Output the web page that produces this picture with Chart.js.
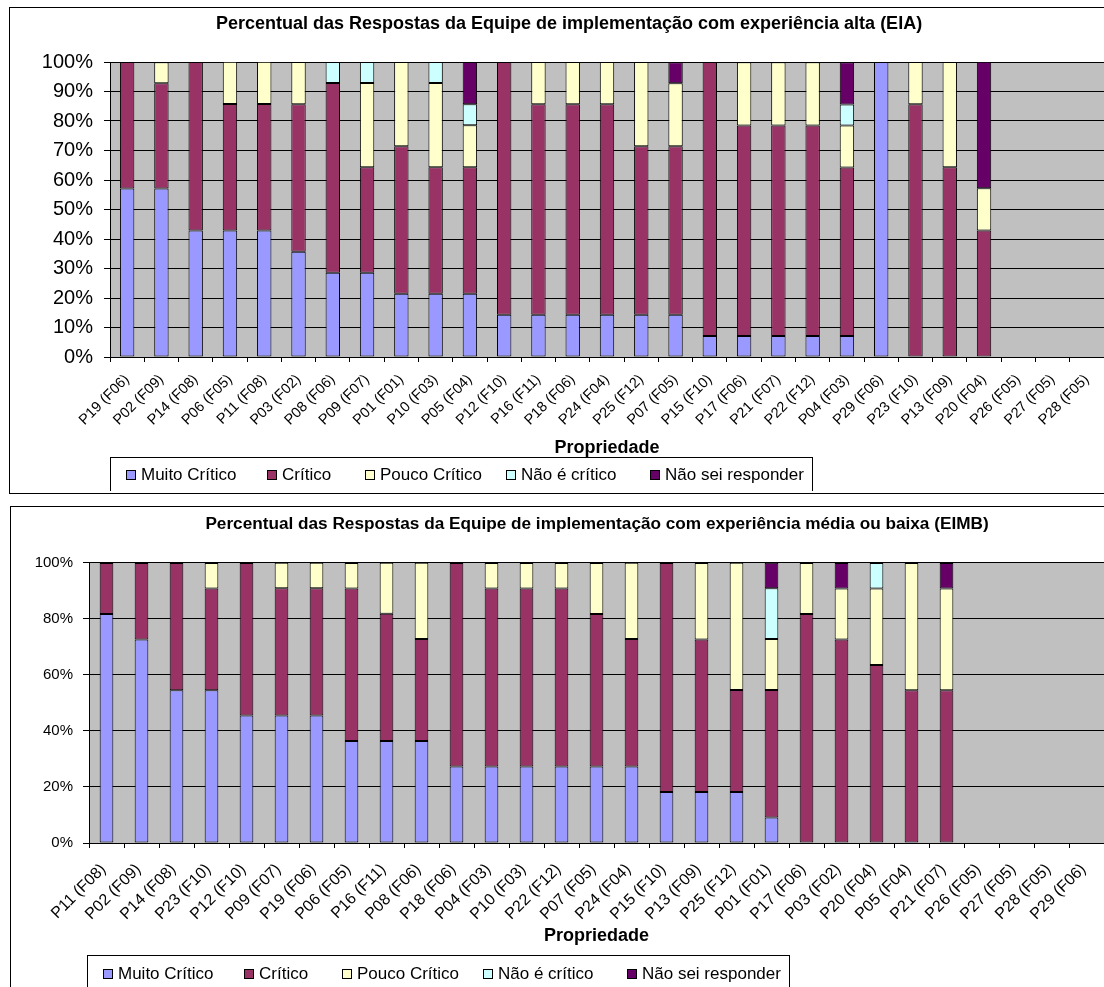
<!DOCTYPE html>
<html><head><meta charset="utf-8">
<script src="https://cdn.jsdelivr.net/npm/chart.js@4"></script>
<style>
html,body{margin:0;padding:0}
body{width:1104px;height:987px;overflow:hidden;background:#fff;position:relative;font-family:"Liberation Sans",Arial,sans-serif}
.box{position:absolute;border:1px solid #000;background:#fff;box-sizing:border-box;overflow:hidden}
#box1{left:9px;top:7px;width:1130px;height:487px}
#box2{left:10px;top:506px;width:1180px;height:500px}
canvas{position:absolute;left:0;top:0}
.legend{position:absolute;border:1px solid #000;border-bottom:none;box-sizing:border-box;color:#000;white-space:nowrap}
.legend .it{position:absolute;top:0;bottom:0;display:flex;align-items:center}
.legend .sw{display:inline-block;width:10px;height:10px;border:1px solid #000;box-sizing:border-box;margin-right:5px}
</style>
</head><body>
<div class="box" id="box1"><canvas id="c1" width="1118" height="485"></canvas><div class="legend" id="lg1"></div></div>
<div class="box" id="box2"><canvas id="c2" width="1172" height="480"></canvas><div class="legend" id="lg2"></div></div>
<script>
// ---------- Data ----------
const seriesNames = ['Muito Crítico', 'Crítico', 'Pouco Crítico', 'Não é crítico', 'Não sei responder'];
const seriesColors = ['#9999FF', '#993366', '#FFFFCC', '#CCFFFF', '#660066'];

const title1 = 'Percentual das Respostas da Equipe de implementação com experiência alta (EIA)';
const cats1 = ['P19 (F06)','P02 (F09)','P14 (F08)','P06 (F05)','P11 (F08)','P03 (F02)','P08 (F06)','P09 (F07)','P01 (F01)','P10 (F03)','P05 (F04)','P12 (F10)','P16 (F11)','P18 (F06)','P24 (F04)','P25 (F12)','P07 (F05)','P15 (F10)','P17 (F06)','P21 (F07)','P22 (F12)','P04 (F03)','P29 (F06)','P23 (F10)','P13 (F09)','P20 (F04)','P26 (F05)','P27 (F05)','P28 (F05)'];
const muitoCritico1 = [57.1,57.1,42.9,42.9,42.9,35.7,28.6,28.6,21.4,21.4,21.4,14.3,14.3,14.3,14.3,14.3,14.3,7.1,7.1,7.1,7.1,7.1,100,0,0,0,0,0,0];
const critico1      = [42.9,35.7,57.1,42.9,42.9,50.0,64.3,35.7,50.0,42.9,42.9,85.7,71.4,71.4,71.4,57.1,57.1,92.9,71.4,71.4,71.4,57.1,0,85.7,64.3,42.9,0,0,0];
const poucoCritico1 = [0,7.1,0,14.3,14.3,14.3,0,28.6,28.6,28.6,14.3,0,14.3,14.3,14.3,28.6,21.4,0,21.4,21.4,21.4,14.3,0,14.3,35.7,14.3,0,0,0];
const naoCritico1   = [0,0,0,0,0,0,7.1,7.1,0,7.1,7.1,0,0,0,0,0,0,0,0,0,0,7.1,0,0,0,0,0,0,0];
const naoSei1       = [0,0,0,0,0,0,0,0,0,0,14.3,0,0,0,0,0,7.1,0,0,0,0,14.3,0,0,0,42.9,0,0,0];
const yTicks1 = [0,10,20,30,40,50,60,70,80,90,100];

const title2 = 'Percentual das Respostas da Equipe de implementação com experiência média ou baixa (EIMB)';
const cats2 = ['P11 (F08)','P02 (F09)','P14 (F08)','P23 (F10)','P12 (F10)','P09 (F07)','P19 (F06)','P06 (F05)','P16 (F11)','P08 (F06)','P18 (F06)','P04 (F03)','P10 (F03)','P22 (F12)','P07 (F05)','P24 (F04)','P15 (F10)','P13 (F09)','P25 (F12)','P01 (F01)','P17 (F06)','P03 (F02)','P20 (F04)','P05 (F04)','P21 (F07)','P26 (F05)','P27 (F05)','P28 (F05)','P29 (F06)'];
const muitoCritico2 = [81.8,72.7,54.5,54.5,45.5,45.5,45.5,36.4,36.4,36.4,27.3,27.3,27.3,27.3,27.3,27.3,18.2,18.2,18.2,9.1,0,0,0,0,0,0,0,0,0];
const critico2      = [18.2,27.3,45.5,36.4,54.5,45.5,45.5,54.5,45.5,36.4,72.7,63.6,63.6,63.6,54.5,45.5,81.8,54.5,36.4,45.5,81.8,72.7,63.6,54.5,54.5,0,0,0,0];
const poucoCritico2 = [0,0,0,9.1,0,9.1,9.1,9.1,18.2,27.3,0,9.1,9.1,9.1,18.2,27.3,0,27.3,45.5,18.2,18.2,18.2,27.3,45.5,36.4,0,0,0,0];
const naoCritico2   = [0,0,0,0,0,0,0,0,0,0,0,0,0,0,0,0,0,0,0,18.2,0,0,9.1,0,0,0,0,0,0];
const naoSei2       = [0,0,0,0,0,0,0,0,0,0,0,0,0,0,0,0,0,0,0,9.1,0,9.1,0,0,9.1,0,0,0,0];
const yTicks2 = [0,20,40,60,80,100];

const axisTitle = 'Propriedade';

// ---------- Rendering ----------
const FONT = '"Liberation Sans", Arial, sans-serif';
Chart.defaults.font.family = FONT;
Chart.defaults.color = '#000';

const plotBg = {
  id: 'plotBg',
  beforeDraw(chart) {
    const a = chart.chartArea, ctx = chart.ctx;
    ctx.save(); ctx.fillStyle = '#C0C0C0';
    ctx.fillRect(a.left, a.top, a.right - a.left, a.bottom - a.top);
    ctx.restore();
  }
};

function makeChart(id, cfg) {
  const datasets = cfg.series.map((d, i) => ({
    label: seriesNames[i], data: d.map(v => (v === 0 ? null : v)),
    backgroundColor: seriesColors[i], borderColor: '#000', borderWidth: 1,
    borderSkipped: false, barPercentage: cfg.barPct, categoryPercentage: 1
  }));
  return new Chart(document.getElementById(id), {
    type: 'bar',
    data: { labels: cfg.cats, datasets },
    plugins: [plotBg],
    options: {
      responsive: false, animation: false,
      layout: { padding: { left: 0, right: 0, top: 0, bottom: cfg.padBottom } },
      plugins: {
        legend: { display: false }, tooltip: { enabled: false },
        title: { display: true, text: cfg.title, color: '#000',
          font: { size: cfg.titleFont, weight: 'bold', family: FONT },
          padding: { top: cfg.titleTop, bottom: cfg.titleBottom } }
      },
      scales: {
        x: {
          stacked: true,
          grid: { offset: true, drawOnChartArea: false, color: '#000', tickLength: 5, lineWidth: 1 },
          border: { color: '#000', width: 1 },
          ticks: { autoSkip: false, minRotation: 45, maxRotation: 45, color: '#000',
            font: { size: cfg.xFont, family: FONT }, padding: cfg.xPad, labelOffset: cfg.xOff },
          title: { display: true, text: axisTitle, color: '#000',
            font: { size: 18, weight: 'bold', family: FONT }, padding: { top: 0, bottom: 0 } },
          afterFit(s) { s.height = cfg.xHeight; }
        },
        y: {
          stacked: true, min: 0, max: 100,
          afterBuildTicks(s) { s.ticks = cfg.yTicks.map(v => ({ value: v })); },
          grid: { color: '#000', tickLength: 6, lineWidth: 1 },
          border: { color: '#000', width: 1 },
          ticks: { color: '#000', font: { size: cfg.yFont, family: FONT }, padding: cfg.yPad,
            callback: v => v + '%' },
          afterFit(s) { s.width = cfg.yWidth; }
        },
        // empty spacer on the right: the original chart frame continues past the picture edge
        spacer: {
          type: 'linear', position: 'right', display: true,
          grid: { display: false, drawTicks: false }, border: { display: false },
          ticks: { display: false },
          afterFit(s) { s.width = cfg.rightSpace; }
        }
      }
    }
  });
}

makeChart('c1', {
  cats: cats1, title: title1, yTicks: yTicks1,
  series: [muitoCritico1, critico1, poucoCritico1, naoCritico1, naoSei1],
  barPct: 0.42, padBottom: 34, titleFont: 18, titleTop: 5.2, titleBottom: 27.2,
  xFont: 14.5, xPad: 9, xOff: 0, xHeight: 102, yFont: 20, yPad: 11, yWidth: 100, rightSpace: 24
});
makeChart('c2', {
  cats: cats2, title: title2, yTicks: yTicks2,
  series: [muitoCritico2, critico2, poucoCritico2, naoCritico2, naoSei2],
  barPct: 0.39, padBottom: 40, titleFont: 17.2, titleTop: 6.6, titleBottom: 28.7,
  xFont: 16, xPad: 12, xOff: -3, xHeight: 104, yFont: 15, yPad: 10, yWidth: 78, rightSpace: 79
});

function makeLegend(id, style) {
  const el = document.getElementById(id);
  Object.assign(el.style, style.box);
  seriesNames.forEach((n, i) => {
    const it = document.createElement('span'); it.className = 'it';
    it.style.left = style.pos[i] + 'px';
    const sw = document.createElement('span'); sw.className = 'sw'; sw.style.background = seriesColors[i];
    const tx = document.createElement('span'); tx.textContent = n;
    it.appendChild(sw); it.appendChild(tx); el.appendChild(it);
  });
}
makeLegend('lg1', { box: { left: '100px', top: '449px', width: '703px', height: '34px', fontSize: '17px' }, pos: [15, 156, 254, 395, 539] });
makeLegend('lg2', { box: { left: '76px', top: '448px', width: '703px', height: '36px', fontSize: '17px' }, pos: [15, 156, 254, 395, 539] });
</script>
</body></html>
